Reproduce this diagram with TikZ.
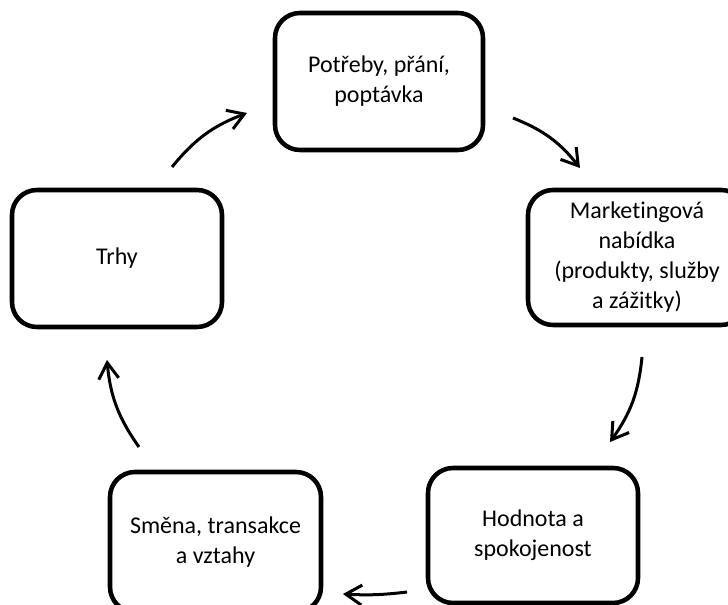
\documentclass[tikz,border=0pt]{standalone}
\usepackage{fontspec}
\setmainfont{Carlito}[Ligatures={NoCommon}]
\usetikzlibrary{arrows.meta}
\begin{document}
\begin{tikzpicture}[x=0.75pt,y=-0.75pt,
  stage/.style={draw, line width=3.4pt, rounded corners=18.75pt, align=center,
    font=\fontsize{18}{22.5}\selectfont, inner sep=0pt},
  flow/.style={line width=2.25pt, -{Straight Barb[length=12pt,width=15pt]}, bend left=15}]
\useasboundingbox (0,0) rectangle (728,605);

% the five stages of the cycle
\node[stage, minimum width=156pt, minimum height=102.75pt] (need) at (379,81.5)
  {Potřeby, přání,\\poptávka};
\node[stage, minimum width=163.5pt, minimum height=101.25pt] (offer) at (637,257.5)
  {Marketingová\\nabídka\\(produkty, služby\\a zážitky)};
\node[stage, minimum width=157.5pt, minimum height=101.25pt] (value) at (533,535.5)
  {Hodnota a\\spokojenost};
\node[stage, minimum width=158.25pt, minimum height=105pt] (exchange) at (215.5,542)
  {Směna, transakce\\a vztahy};
\node[stage, minimum width=157.5pt, minimum height=102.75pt] (markets) at (117,258.5)
  {Trhy};

% free ends of the connecting arrows
\coordinate (m2n) at (172,167);  \coordinate (n2m) at (247,113);
\coordinate (n2o) at (513,118);  \coordinate (o2n) at (580,168);
\coordinate (o2v) at (642,357);  \coordinate (v2o) at (610,442);
\coordinate (v2e) at (407,592);  \coordinate (e2v) at (343,594);
\coordinate (e2m) at (139,447);  \coordinate (m2e) at (107,360);

\draw[flow] (m2n) to (n2m);
\draw[flow] (n2o) to (o2n);
\draw[flow] (o2v) to (v2o);
\draw[flow, bend left=5] (v2e) to (e2v);
\draw[flow] (e2m) to (m2e);
\end{tikzpicture}
\end{document}
